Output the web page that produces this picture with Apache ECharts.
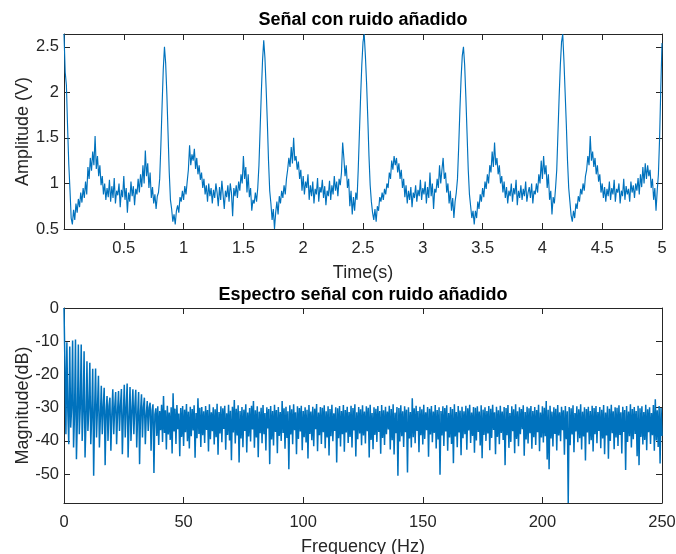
<!DOCTYPE html>
<html>
<head>
<meta charset="utf-8">
<script src="https://cdn.jsdelivr.net/npm/echarts@6/dist/echarts.min.js"></script>
<style>
  html, body { margin: 0; padding: 0; background: #ffffff; }
  #chart { width: 676px; height: 554px; }
</style>
</head>
<body>
<div id="chart"></div>
<script>
// Noisy ECG-like signal, sampled every 10 ms from 0 to 5 s (volts)
const sampleStep = 0.01;
const amplitudeV = [
  2.64, 2.22, 2.08, 1.62, 1.21, 0.93, 0.62, 0.55, 0.71, 0.6,
  0.78, 0.68, 0.83, 0.74, 0.9, 0.79, 0.95, 0.84, 1.02, 0.88,
  1.18, 1.05, 1.28, 1.14, 1.35, 1.2, 1.52, 1.16, 1.3, 1.08,
  1.2, 0.98, 1.08, 0.88, 1.0, 0.82, 0.95, 0.85, 1.04, 0.8,
  0.97, 0.84, 1.06, 0.78, 0.92, 0.87, 1.0, 0.74, 0.93, 0.85,
  1.08, 0.82, 0.95, 0.68, 0.9, 0.8, 1.02, 0.86, 0.97, 0.76,
  0.94, 0.88, 1.05, 0.9, 1.1, 0.96, 1.2, 1.0, 1.36, 1.08,
  1.22, 0.95, 1.12, 0.84, 0.96, 0.78, 0.88, 0.72, 0.86, 0.9,
  1.05, 1.42, 1.85, 2.25,
  2.5, 2.32, 1.98, 1.55, 1.12, 0.82, 0.72, 0.58, 0.66, 0.55,
  0.7, 0.76, 0.68, 0.85, 0.8, 0.92, 0.82, 0.97, 0.88, 1.02,
  1.15, 1.42, 1.2, 1.32, 1.25, 1.38, 1.16, 1.28, 1.1, 1.2,
  1.04, 1.12, 0.95, 1.05, 0.88, 0.98, 0.8, 1.0, 0.86, 0.95,
  0.78, 0.93, 0.84, 1.0, 0.9, 0.75, 0.96, 0.82, 1.03, 0.88,
  0.72, 0.92, 0.85, 0.98, 0.8, 1.0, 0.9, 0.64, 0.95, 0.86,
  0.98, 0.84, 1.02, 0.92, 1.1, 1.0, 1.3, 1.05, 1.18, 0.9,
  1.1, 0.85, 0.95, 0.7, 0.82, 0.78, 0.9, 0.8, 0.95, 1.2, 1.6, 2.0, 2.35,
  2.57, 2.38, 2.05, 1.68, 1.25, 0.92, 0.78, 0.6, 0.72, 0.5,
  0.68, 0.8, 0.66, 0.86, 0.78, 0.92, 0.84, 0.98, 0.88, 1.05,
  1.15, 1.28, 1.18, 1.4, 1.22, 1.5, 1.25, 1.3, 1.15, 1.24,
  1.05, 1.15, 0.92, 1.08, 0.88, 1.02, 0.95, 1.1, 0.82, 0.98,
  0.86, 1.02, 0.78, 0.94, 0.88, 1.06, 0.8, 0.96, 0.9, 1.04,
  0.84, 0.97, 0.76, 0.92, 0.86, 1.03, 0.82, 0.98, 0.88, 1.08,
  0.92, 1.02, 0.86, 1.05, 0.98, 1.12, 1.45, 1.28, 1.08, 1.2,
  0.95, 1.05, 0.75, 0.92, 0.66, 0.85, 0.7, 0.9, 0.82, 1.15, 1.55, 1.95, 2.3, 2.55,
  2.64, 2.4, 2.1, 1.72, 1.3, 0.98, 0.8, 0.68, 0.6, 0.72,
  0.58, 0.75, 0.7, 0.85, 0.8, 0.9, 0.82, 0.94, 0.88, 1.0,
  0.95, 1.12, 1.05, 1.25, 1.15, 1.3, 1.2, 1.28, 1.12, 1.22,
  1.05, 1.15, 0.95, 1.05, 0.85, 0.98, 0.78, 0.92, 0.82, 0.96,
  0.74, 0.9, 0.84, 0.98, 0.8, 0.93, 0.86, 1.04, 0.82, 0.95,
  0.88, 1.02, 0.78, 0.96, 0.84, 1.12, 0.86, 1.0, 0.72, 0.94,
  0.9, 1.05, 0.95, 1.2, 1.0, 1.15, 1.28, 1.05, 1.12, 0.9,
  1.0, 0.78, 0.92, 0.7, 0.84, 0.62, 0.8, 0.9, 1.05, 1.4, 1.8, 2.15, 2.4,
  2.5, 2.3, 1.95, 1.55, 1.15, 0.88, 0.75, 0.62, 0.7, 0.55,
  0.7, 0.62, 0.8, 0.72, 0.88, 0.8, 0.95, 0.85, 1.02, 0.94,
  1.1, 1.0, 1.2, 1.12, 1.35, 1.18, 1.45, 1.2, 1.28, 1.1,
  1.2, 1.0, 1.08, 0.9, 1.02, 0.84, 0.96, 0.78, 0.92, 0.86,
  1.0, 0.8, 0.95, 0.88, 1.04, 0.76, 0.92, 0.84, 0.98, 0.82,
  0.94, 0.86, 1.02, 0.8, 0.9, 0.96, 0.84, 1.0, 0.78, 0.92,
  0.88, 1.0, 0.9, 1.1, 1.0, 1.25, 1.05, 1.3, 1.1, 1.2,
  0.95, 1.1, 0.82, 0.92, 0.66, 0.85, 0.78, 0.95, 1.15, 1.55, 1.95, 2.3, 2.55,
  2.64, 2.35, 2.0, 1.65, 1.25, 0.95, 0.8, 0.65, 0.58, 0.7,
  0.62, 0.78, 0.72, 0.86, 0.8, 0.94, 0.88, 1.0, 0.92, 1.08,
  1.15, 1.3, 1.2, 1.52, 1.25, 1.35, 1.18, 1.28, 1.1, 1.2,
  1.02, 1.1, 0.9, 1.0, 0.84, 0.96, 0.8, 0.94, 0.86, 1.02,
  0.82, 0.95, 0.88, 1.04, 0.8, 0.94, 0.9, 1.0, 0.78, 0.92,
  0.86, 1.05, 0.82, 0.97, 0.88, 0.94, 0.8, 1.02, 0.9, 0.98,
  0.84, 1.0, 0.92, 1.06, 0.88, 1.1, 0.96, 1.18, 1.0, 1.22,
  1.05, 1.2, 1.08, 1.15, 0.95, 1.05, 0.82, 0.95, 0.7, 0.92,
  1.1, 1.5, 2.05, 2.54
];

// Magnitude spectrum of the noisy signal, one bin every 0.4 Hz from 0 to 250 Hz (dB)
const freqStep = 0.4;
const magnitudeDb = [
  0, -17.5, -38, -10.3, -31, -41, -11.6, -36, -30, -9.8,
  -42, -32, -9.5, -45.5, -33, -11, -38, -30, -11, -40,
  -31, -13, -45, -34, -16, -37, -30, -16.5, -41, -32,
  -18.3, -50.5, -31, -18.2, -39, -30, -20.4, -42, -33, -23.4,
  -38, -30, -24, -47.3, -31, -26.5, -40, -29.5, -27, -43,
  -32, -24.5, -38, -30, -25.3, -41, -31, -25, -37, -29.5,
  -24.4, -44, -32, -23.1, -39, -30, -22.7, -45, -33, -23.8,
  -40, -31, -24.5, -38, -30, -24.6, -42, -32, -25.3, -47,
  -31, -26, -39, -30, -27, -41, -32, -28, -37, -30,
  -28.5, -43, -31, -29, -49.7, -32,
  -30.2, -38.5, -29.6, -41.2, -31.0, -36.8, -29.1, -40.3, -26.5, -37.6,
  -30.8, -42.6, -29.4, -38.1, -31.5, -39.7, -29.9, -43.8, -25.7, -37.2,
  -30.3, -40.9, -29.2, -36.5, -31.8, -44.6, -30.1, -38.8, -29.5, -41.5,
  -30.6, -37.4, -28.9, -40.1, -31.2, -42.3, -29.7, -38.6, -30.4, -36.9,
  -29.3, -45.1, -31.6, -39.2, -27.2, -37.9, -30.0, -41.8, -29.8, -38.3,
  -31.1, -40.6, -29.5, -36.7, -30.7, -43.2, -29.0, -39.5, -31.4, -37.1,
  -29.9, -41.1, -30.5, -38.9, -28.8, -44.2, -31.3, -37.8, -29.6, -40.4,
  -30.2, -36.4, -29.4, -42.7, -31.7, -38.2, -29.1, -39.9, -30.9, -45.8,
  -29.7, -37.5, -27.7, -40.8, -30.3, -38.4, -29.3, -46.5, -31.0, -39.3,
  -29.8, -41.9, -30.6, -37.0, -29.0, -43.5, -31.5, -38.7, -30.1, -40.2,
  -29.4, -36.6, -28.0, -42.1, -30.8, -39.0, -29.6, -44.9, -31.2, -37.7,
  -30.0, -40.7, -29.2, -38.0, -31.6, -42.9, -29.9, -36.3, -30.4, -47.0,
  -29.5, -39.6, -31.0, -41.4, -29.1, -37.3, -30.7, -43.7, -29.8, -38.5,
  -31.3, -40.0, -28.0, -37.6, -30.2, -42.4, -29.7, -39.1, -31.1, -48.5,
  -29.3, -38.1, -30.5, -41.0, -29.0, -36.8, -31.4, -44.0, -29.6, -39.4,
  -30.1, -37.2, -29.4, -42.8, -31.0, -38.9, -29.9, -40.5, -30.6, -45.3,
  -29.2, -37.9, -31.2, -39.8, -29.7, -41.6, -30.3, -36.5, -28.9, -43.1,
  -31.5, -38.3, -29.8, -40.9, -30.0, -37.4, -29.3, -42.2, -31.1, -39.0,
  -29.6, -44.4, -30.4, -38.6, -29.1, -40.1, -31.7, -37.0, -29.9, -46.5,
  -30.2, -39.2, -29.5, -41.7, -31.0, -38.0, -29.2, -43.3, -30.7, -37.5,
  -29.7, -40.6, -31.3, -38.8, -29.4, -42.0, -30.1, -36.9, -29.0, -44.7,
  -31.4, -39.5, -29.8, -37.8, -30.5, -41.3, -29.3, -38.4, -31.2, -40.8,
  -29.6, -37.1, -30.0, -45.0, -29.1, -39.7, -31.6, -42.5, -29.9, -38.2,
  -30.3, -40.3, -29.5, -37.3, -31.0, -43.9, -29.2, -39.1, -30.8, -41.2,
  -29.7, -38.0, -31.2, -36.6, -29.4, -42.6, -30.4, -39.8, -29.0, -44.1,
  -31.5, -37.7, -29.8, -50.5, -30.1, -40.2, -29.3, -38.6, -31.1, -41.8,
  -29.6, -37.4, -30.6, -49.5, -29.9, -39.3, -31.3, -42.0, -27.2, -38.9,
  -30.2, -40.7, -29.4, -37.0, -31.0, -43.4, -29.7, -38.3, -30.5, -41.1,
  -29.1, -39.4, -31.4, -36.8, -29.8, -44.8, -30.3, -38.1, -29.5, -40.4,
  -31.2, -37.6, -29.2, -42.3, -30.7, -39.6, -29.9, -50.2, -31.0, -38.4,
  -29.6, -41.5, -30.1, -37.2, -29.3, -43.0, -31.6, -39.0, -29.8, -40.9,
  -30.4, -46.7, -29.0, -38.7, -31.3, -41.9, -29.5, -37.5, -30.9, -44.3,
  -29.7, -39.2, -31.1, -38.0, -29.4, -42.7, -30.2, -36.9, -29.1, -40.6,
  -31.5, -38.5, -29.8, -43.6, -30.0, -39.9, -29.6, -37.3, -31.2, -41.4,
  -29.3, -45.2, -30.6, -38.2, -29.9, -40.0, -31.0, -37.8, -29.5, -42.8,
  -30.3, -39.1, -29.1, -36.7, -31.4, -44.0, -29.7, -38.8, -30.8, -41.0,
  -29.4, -37.6, -31.2, -39.7, -29.8, -47.3, -30.1, -38.3, -29.2, -42.1,
  -31.6, -40.3, -29.6, -37.1, -30.5, -43.7, -29.0, -39.4, -31.1, -41.6,
  -29.9, -38.0, -30.4, -36.5, -29.3, -44.5, -31.3, -39.6, -29.7, -40.8,
  -30.2, -37.7, -29.5, -42.4, -31.0, -38.9, -29.8, -41.2, -30.7, -37.4,
  -29.1, -43.1, -31.5, -39.0, -29.6, -40.5, -30.0, -38.6, -28.0, -45.6,
  -30.6, -48.5, -29.4, -39.3, -31.2, -41.7, -29.9, -37.9, -30.3, -42.9,
  -29.2, -38.4, -31.4, -40.1, -29.7, -36.8, -30.8, -44.2, -29.5, -39.5,
  -31.1, -58.7, -29.8, -41.3, -30.2, -38.1, -29.3, -43.4, -31.6, -37.2,
  -29.6, -40.4, -30.5, -39.2, -29.0, -42.6, -31.2, -38.7, -29.9, -45.9,
  -30.4, -37.5, -29.7, -41.0, -31.0, -39.8, -29.4, -43.2, -30.1, -38.0,
  -29.5, -40.7, -31.3, -37.0, -29.8, -42.2, -30.6, -39.3, -29.2, -44.0,
  -31.5, -38.4, -29.6, -45.4, -30.3, -40.0, -29.1, -37.7, -31.1, -42.5,
  -29.9, -39.0, -30.0, -41.5, -29.3, -38.2, -31.4, -43.8, -29.7, -37.3,
  -30.7, -48.8, -29.5, -40.3, -31.2, -38.6, -29.0, -42.0, -30.4, -39.5,
  -29.8, -37.9, -31.0, -44.6, -29.4, -47.3, -30.2, -38.8, -29.6, -41.1,
  -31.3, -39.7, -29.1, -42.8, -30.5, -37.4, -29.9, -40.9, -31.6, -38.3,
  -29.2, -43.0, -27.5, -39.9, -30.8, -41.8, -29.5, -46.8, -30.1, -38.5
];

const titles = ['Señal con ruido añadido', 'Espectro señal con ruido añadido'];
const timeTicks = { min: 0, max: 5, interval: 0.5 };
const ampTicks = { min: 0.5, max: 2.64, interval: 0.5 };
const freqTicks = { min: 0, max: 250, interval: 50 };
const dbRange = { min: -58.7, max: 0 };

const signalPoints = amplitudeV.map((v, i) => [+(i * sampleStep).toFixed(2), v]);
const spectrumPoints = magnitudeDb.map((v, i) => [+(i * freqStep).toFixed(1), v]);

const FONT = "'Liberation Sans', Arial, Helvetica, sans-serif";
const INK = '#262626';
const LINE_BLUE = '#0072BD';

const axisLine = { show: true, onZero: false, lineStyle: { color: INK, width: 1 } };
const tickIn = { show: true, inside: true, length: 6, lineStyle: { color: INK, width: 1 } };
const labelStyle = { color: INK, fontFamily: FONT, fontSize: 16.5 };
const nameStyle = { color: INK, fontFamily: FONT, fontSize: 18 };

// main axes carry labels; mirrored axes close the box with inward ticks
function xMain(grid, range, name, formatter) {
  return Object.assign({
    type: 'value', gridIndex: grid, position: 'bottom',
    name: name, nameLocation: 'middle', nameGap: 35, nameTextStyle: nameStyle,
    axisLine: axisLine, axisTick: tickIn, splitLine: { show: false },
    axisLabel: Object.assign({ margin: 10.5, formatter: formatter }, labelStyle)
  }, range);
}
function xMirror(grid, range) {
  return Object.assign({
    type: 'value', gridIndex: grid, position: 'top',
    axisLine: axisLine, axisTick: tickIn, splitLine: { show: false },
    axisLabel: { show: false }
  }, range);
}
function yMain(grid, range, name, extraLabel) {
  return Object.assign({
    type: 'value', gridIndex: grid, position: 'left',
    name: name, nameLocation: 'middle', nameGap: 32, nameMoveOverlap: false,
    nameTextStyle: nameStyle,
    axisLine: axisLine, axisTick: tickIn, splitLine: { show: false },
    axisLabel: Object.assign({ margin: 5 }, labelStyle, extraLabel || {})
  }, range);
}
function yMirror(grid, range) {
  return Object.assign({
    type: 'value', gridIndex: grid, position: 'right',
    axisLine: axisLine, axisTick: tickIn, splitLine: { show: false },
    axisLabel: { show: false }
  }, range);
}

const chart = echarts.init(document.getElementById('chart'), null, { renderer: 'canvas' });
chart.setOption({
  backgroundColor: '#ffffff',
  animation: false,
  title: [
    { text: titles[0], left: 363, top: 11, textAlign: 'center', padding: 0,
      textStyle: { fontFamily: FONT, fontSize: 18, fontWeight: 'bold', color: '#000000' } },
    { text: titles[1], left: 363, top: 286, textAlign: 'center', padding: 0,
      textStyle: { fontFamily: FONT, fontSize: 18, fontWeight: 'bold', color: '#000000' } }
  ],
  grid: [
    { left: 64, right: 14, top: 34, height: 195, outerBoundsMode: 'none', containLabel: false },
    { left: 64, right: 14, top: 308, height: 195, outerBoundsMode: 'none', containLabel: false }
  ],
  xAxis: [
    xMain(0, timeTicks, 'Time(s)', v => (v === 0 ? '' : String(v))),
    xMirror(0, timeTicks),
    xMain(1, freqTicks, 'Frequency (Hz)', v => String(v)),
    xMirror(1, freqTicks)
  ],
  yAxis: [
    yMain(0, ampTicks, 'Amplitude (V)', { showMaxLabel: false }),
    yMirror(0, ampTicks),
    yMain(1, dbRange, 'Magnitude(dB)', { showMinLabel: false }),
    yMirror(1, dbRange)
  ],
  series: [
    {
      type: 'line', xAxisIndex: 0, yAxisIndex: 0, data: signalPoints,
      showSymbol: false, symbol: 'none', clip: true,
      lineStyle: { color: LINE_BLUE, width: 1.15 }
    },
    {
      type: 'line', xAxisIndex: 2, yAxisIndex: 2, data: spectrumPoints,
      showSymbol: false, symbol: 'none', clip: true,
      lineStyle: { color: LINE_BLUE, width: 1.5 }
    }
  ]
});
</script>
</body>
</html>
